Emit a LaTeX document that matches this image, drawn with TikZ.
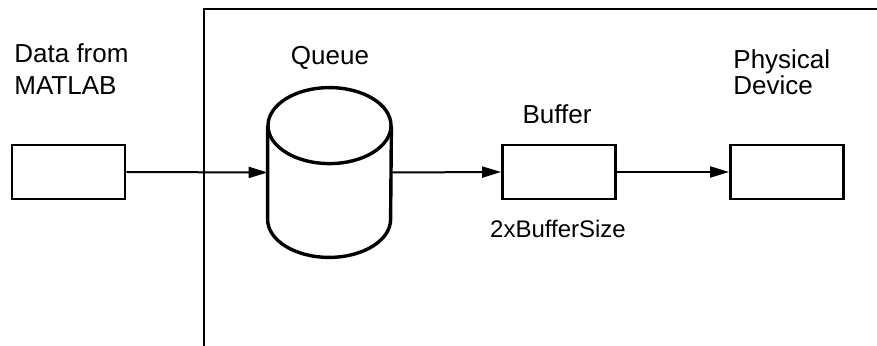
\documentclass[tikz,border=0pt]{standalone}
\usepackage{fontspec}
\setmainfont{Liberation Sans}
\usetikzlibrary{arrows.meta}

\begin{document}
\begin{tikzpicture}[x=0.5pt,y=-0.5pt,>={Triangle[length=9.5pt,width=5.5pt]},
  box/.style={draw,line width=1.4pt,minimum width=56.5pt,minimum height=27pt,inner sep=0pt},
  lbl/.style={font=\fontsize{13}{16}\selectfont,inner sep=0pt,align=left},
  link/.style={->,line width=1pt}]
\useasboundingbox (0,0) rectangle (877,346);
% frame of the driver
\draw[line width=1.4pt] (204,346) |- (877,9);
% blocks
\node[box] (matlab) at (68.5,172) {};
\node[minimum width=61.5pt,minimum height=84.5pt,inner sep=0pt] (queue) at (329.5,172.5) {};
\node[box] (buffer) at (559,172) {};
\node[box] (device) at (787,172) {};
% queue drawn as a drum
\draw[line width=1.7pt] ([yshift=-19pt]queue.north) ellipse [x radius=30.75pt,y radius=19pt];
\draw[line width=1.7pt] ([yshift=-19pt]queue.north west) -- ([yshift=19pt]queue.south west)
  arc [start angle=180,end angle=360,x radius=30.75pt,y radius=19pt]
  -- ([yshift=-19pt]queue.north east);
% labels
\node[lbl,anchor=base west] (matlab_l) at (14,95) {Data from\\MATLAB};
\node[lbl,anchor=base] (queue_l) at (330,65) {Queue};
\node[lbl,anchor=base] (buffer_l) at (557,124) {Buffer};
\node[lbl,anchor=base west,font=\fontsize{13}{13}\selectfont] (device_l) at (733,94.5) {Physical\\Device};
\node[lbl,anchor=base,font=\fontsize{12}{15}\selectfont] (size_l) at (558,237.7) {2xBufferSize};
% data path
\draw[link] (matlab.east) -- (queue.west);
\draw[link] (queue.east) -- (buffer.west);
\draw[link] (buffer.east) -- (device.west);
\end{tikzpicture}
\end{document}
